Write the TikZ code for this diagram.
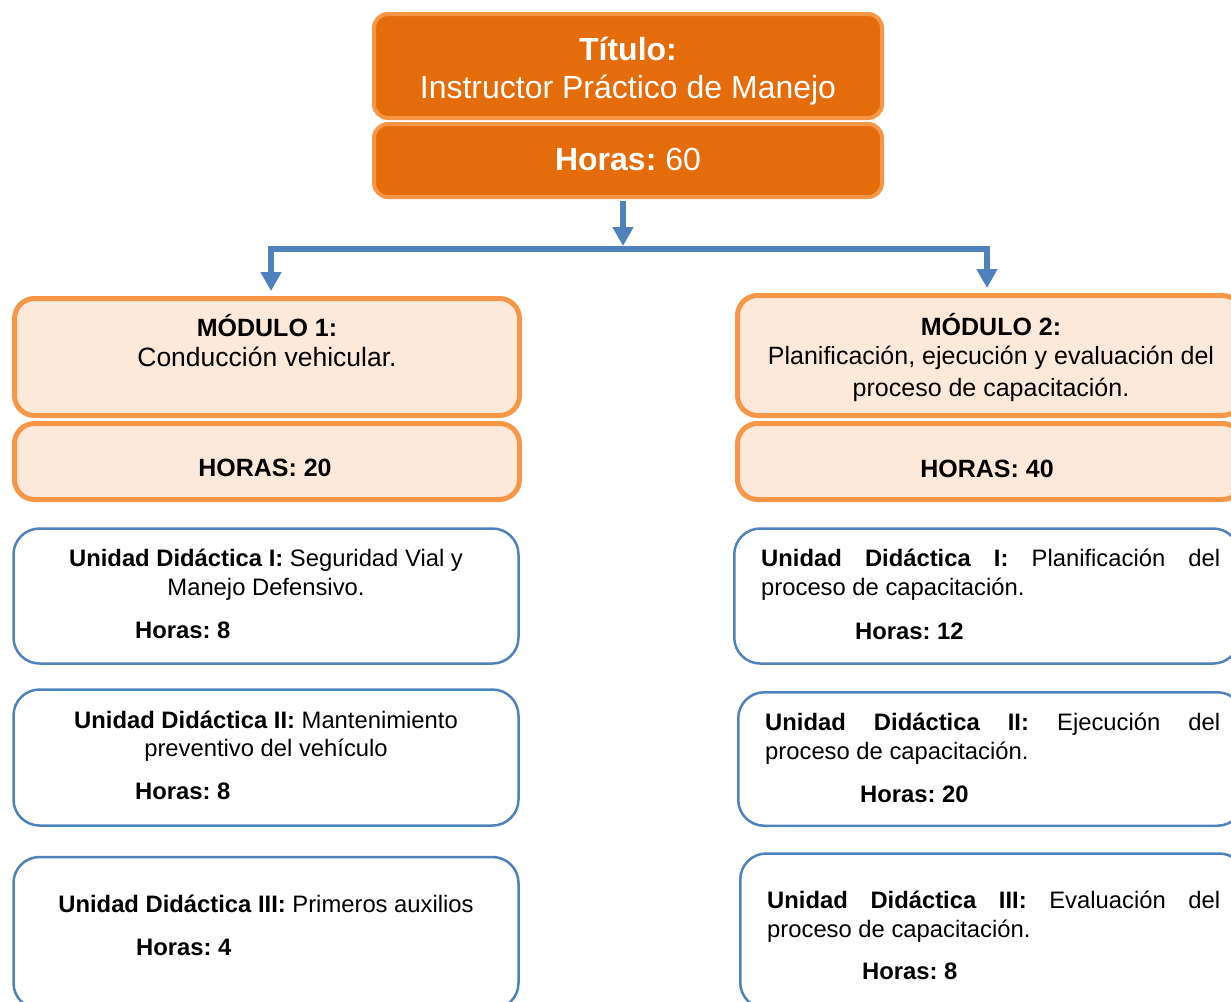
\documentclass[tikz,border=0pt]{standalone}
\usepackage{fontspec}
\setmainfont{Liberation Sans}
\usetikzlibrary{arrows.meta}
\definecolor{orangeDark}{HTML}{E46C0A}
\definecolor{orangeLine}{HTML}{F79646}
\definecolor{peach}{HTML}{FDE9D9}
\definecolor{blueLine}{HTML}{4F81BD}
\newcommand\fT{\fontsize{32}{38}\selectfont}
\newcommand\fM{\fontsize{25}{30}\selectfont}
\newcommand\fMl{\fontsize{26.5}{31}\selectfont}
\newcommand\fU{\fontsize{23.8}{29}\selectfont}
\frenchspacing
\begin{document}
\frenchspacing
\begin{tikzpicture}[x=1pt,y=-1pt,
  titlebox/.style={draw=orangeLine, fill=orangeDark, line width=4pt, rounded corners=14pt, minimum width=508pt, inner sep=0pt},
  modbox/.style={draw=orangeLine, fill=peach, line width=5pt, rounded corners=20pt, minimum width=505pt, inner sep=0pt},
  unitbox/.style={draw=blueLine, fill=white, line width=2.5pt, rounded corners=26pt, minimum width=505pt, inner sep=0pt},
  txt/.style={inner sep=0pt, anchor=base},
  txtl/.style={inner sep=0pt, anchor=base west},
  conn/.style={draw=blueLine, line width=6pt, -{Triangle[width=20pt,length=19pt]}},
  bar/.style={draw=blueLine, line width=6pt, line cap=rect},
]
\useasboundingbox (0,0) rectangle (1231,1001);
\clip (0,0) rectangle (1231,1001);

% title
\node[titlebox, minimum height=104pt] (title) at (628,66) {};
\node[titlebox, minimum height=73pt] (hours) at (628,160.5) {};
\node[txt, text=white] (t1) at (628,60) {\fT\textbf{Título:}};
\node[txt, text=white] (t2) at (628,98) {\fT Instructor Práctico de Manejo};
\node[txt, text=white] (t3) at (628,170) {\fT\textbf{Horas:} 60};

% modules
\node[modbox, minimum height=117pt] (m1) at (267,357) {};
\node[modbox, minimum height=76pt] (m1h) at (267,461.5) {};
\node[modbox, minimum height=120pt] (m2) at (990,355.5) {};
\node[modbox, minimum height=76pt] (m2h) at (990,461.5) {};

\node[txt] (m1a) at (267,336) {\fM\textbf{MÓDULO 1:}};
\node[txt] (m1b) at (267,366) {\fMl Conducción vehicular.};
\node[txt] (m1c) at (265,476) {\fM\textbf{HORAS: 20}};
\node[txt] (m2a) at (991,335) {\fM\textbf{MÓDULO 2:}};
\node[txt] (m2b) at (991,364) {\fM Planificación, ejecución y evaluación del};
\node[txt] (m2c) at (991,396) {\fM proceso de capacitación.};
\node[txt] (m2d) at (987,477) {\fM\textbf{HORAS: 40}};

% units left
\node[unitbox, minimum height=135pt] (u1) at (266,596) {};
\node[unitbox, minimum height=136pt] (u2) at (266,757.5) {};
\node[unitbox, minimum height=152pt] (u3) at (266,933) {};
\node[txt] (u1a) at (266,566) {\fU\textbf{Unidad Didáctica I:} Seguridad Vial y};
\node[txt] (u1b) at (266,595) {\fU Manejo Defensivo.};
\node[txtl] (u1c) at (135,638) {\fU\textbf{Horas: 8}};
\node[txt] (u2a) at (266,728) {\fU\textbf{Unidad Didáctica II:} Mantenimiento};
\node[txt] (u2b) at (266,756) {\fU preventivo del vehículo};
\node[txtl] (u2c) at (135,799) {\fU\textbf{Horas: 8}};
\node[txt] (u3a) at (266,912) {\fU\textbf{Unidad Didáctica III:} Primeros auxilios};
\node[txtl] (u3c) at (136,955) {\fU\textbf{Horas: 4}};

% units right
\node[unitbox, minimum height=135pt] (v1) at (986.75,596) {};
\node[unitbox, minimum height=133.5pt] (v2) at (990.75,759) {};
\node[unitbox, minimum height=155pt] (v3) at (992.75,931) {};
\node[txtl] (v1a) at (761,566) {\fU\makebox[459pt][s]{\textbf{Unidad Didáctica I:} Planificación del}};
\node[txtl] (v1b) at (761,595) {\fU proceso de capacitación.};
\node[txtl] (v1c) at (855,639) {\fU\textbf{Horas: 12}};
\node[txtl] (v2a) at (765,730) {\fU\makebox[455pt][s]{\textbf{Unidad Didáctica II:} Ejecución del}};
\node[txtl] (v2b) at (765,759) {\fU proceso de capacitación.};
\node[txtl] (v2c) at (860,802) {\fU\textbf{Horas: 20}};
\node[txtl] (v3a) at (767,908) {\fU\makebox[453pt][s]{\textbf{Unidad Didáctica III:} Evaluación del}};
\node[txtl] (v3b) at (767,937) {\fU proceso de capacitación.};
\node[txtl] (v3c) at (862,979) {\fU\textbf{Horas: 8}};

% connectors
\coordinate (jC) at (623,246);
\coordinate (jL) at (271,249);
\coordinate (jR) at (987,249);
\draw[conn] ([yshift=-2pt]jC |- hours.south) -- (jC);
\draw[bar] (jL) -- (jR);
\draw[conn, shorten >=5pt] (jL) -- (jL |- m1.north);
\draw[conn, shorten >=5pt] (jR) -- (jR |- m2.north);
\end{tikzpicture}
\end{document}
